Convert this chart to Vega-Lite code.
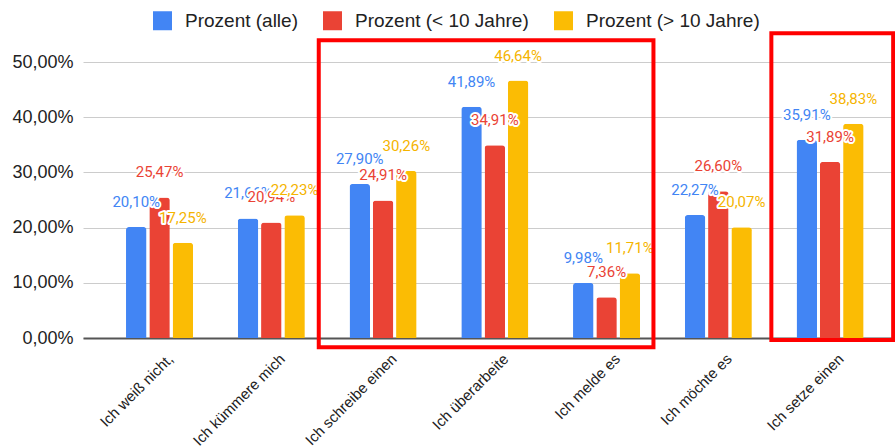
{
  "$schema": "https://vega.github.io/schema/vega-lite/v6.json",
  "width": 812,
  "height": 276,
  "autosize": "none",
  "padding": {"left": 83, "top": 62, "right": 0, "bottom": 108},
  "background": "white",
  "config": {
    "locale": {"number": {"decimal": ",", "thousands": ".", "grouping": [3], "currency": ["", " €"]}},
    "view": {"stroke": null}
  },
  "datasets": {
    "werte": [
      {"kategorie": "Ich weiß nicht,", "gruppe": "Prozent (alle)", "anteil": 0.2010},
      {"kategorie": "Ich weiß nicht,", "gruppe": "Prozent (< 10 Jahre)", "anteil": 0.2547},
      {"kategorie": "Ich weiß nicht,", "gruppe": "Prozent (> 10 Jahre)", "anteil": 0.1725},
      {"kategorie": "Ich kümmere mich", "gruppe": "Prozent (alle)", "anteil": 0.2166},
      {"kategorie": "Ich kümmere mich", "gruppe": "Prozent (< 10 Jahre)", "anteil": 0.2094},
      {"kategorie": "Ich kümmere mich", "gruppe": "Prozent (> 10 Jahre)", "anteil": 0.2223},
      {"kategorie": "Ich schreibe einen", "gruppe": "Prozent (alle)", "anteil": 0.2790},
      {"kategorie": "Ich schreibe einen", "gruppe": "Prozent (< 10 Jahre)", "anteil": 0.2491},
      {"kategorie": "Ich schreibe einen", "gruppe": "Prozent (> 10 Jahre)", "anteil": 0.3026},
      {"kategorie": "Ich überarbeite", "gruppe": "Prozent (alle)", "anteil": 0.4189},
      {"kategorie": "Ich überarbeite", "gruppe": "Prozent (< 10 Jahre)", "anteil": 0.3491},
      {"kategorie": "Ich überarbeite", "gruppe": "Prozent (> 10 Jahre)", "anteil": 0.4664},
      {"kategorie": "Ich melde es", "gruppe": "Prozent (alle)", "anteil": 0.0998},
      {"kategorie": "Ich melde es", "gruppe": "Prozent (< 10 Jahre)", "anteil": 0.0736},
      {"kategorie": "Ich melde es", "gruppe": "Prozent (> 10 Jahre)", "anteil": 0.1171},
      {"kategorie": "Ich möchte es", "gruppe": "Prozent (alle)", "anteil": 0.2227},
      {"kategorie": "Ich möchte es", "gruppe": "Prozent (< 10 Jahre)", "anteil": 0.2660},
      {"kategorie": "Ich möchte es", "gruppe": "Prozent (> 10 Jahre)", "anteil": 0.2007},
      {"kategorie": "Ich setze einen", "gruppe": "Prozent (alle)", "anteil": 0.3591},
      {"kategorie": "Ich setze einen", "gruppe": "Prozent (< 10 Jahre)", "anteil": 0.3189},
      {"kategorie": "Ich setze einen", "gruppe": "Prozent (> 10 Jahre)", "anteil": 0.3883}
    ],
    "markierungen": [
      {"von": 1.425, "bis": 4.42, "oben": 0.5395, "unten": -0.0167},
      {"von": 5.475, "bis": 6.565, "oben": 0.552, "unten": -0.0036}
    ]
  },
  "layer": [
    {
      "data": {"name": "werte"},
      "encoding": {
        "x": {
          "field": "kategorie",
          "type": "nominal",
          "sort": null,
          "scale": {"paddingInner": 0.4, "paddingOuter": 0.333, "align": 0.578},
          "axis": {
            "title": null,
            "labelAngle": -45,
            "labelAlign": "right",
            "labelBaseline": "middle",
            "labelFont": "Liberation Sans",
            "labelFontSize": 15,
            "labelColor": "#222222",
            "labelPadding": 18,
            "labelOffset": 11,
            "ticks": false,
            "grid": false,
            "domainColor": "#555555",
            "domainWidth": 2,
            "labelOverlap": false
          }
        },
        "xOffset": {
          "field": "gruppe",
          "type": "nominal",
          "scale": {"domain": ["Prozent (alle)", "Prozent (< 10 Jahre)", "Prozent (> 10 Jahre)"], "paddingInner": 0.12, "paddingOuter": 0}
        },
        "y": {
          "field": "anteil",
          "type": "quantitative",
          "scale": {"domain": [0, 0.5], "nice": false},
          "axis": {
            "title": null,
            "format": ".2%",
            "values": [0, 0.1, 0.2, 0.3, 0.4, 0.5],
            "labelFont": "Liberation Sans",
            "labelFontSize": 18,
            "labelColor": "#222222",
            "labelPadding": 10,
            "ticks": false,
            "domain": false,
            "gridColor": "#cccccc",
            "gridWidth": 1
          }
        }
      },
      "layer": [
        {
          "mark": {"type": "bar", "cornerRadiusTopLeft": 3, "cornerRadiusTopRight": 3},
          "encoding": {
            "color": {
              "field": "gruppe",
              "type": "nominal",
              "scale": {
                "domain": ["Prozent (alle)", "Prozent (< 10 Jahre)", "Prozent (> 10 Jahre)"],
                "range": ["#4285F4", "#EA4335", "#FBBC04"]
              },
              "legend": {
                "title": null,
                "orient": "none",
                "direction": "horizontal",
                "legendX": 70,
                "legendY": -51,
                "symbolType": "square",
                "symbolSize": 361,
                "symbolStrokeWidth": 0,
                "labelFont": "Liberation Sans",
                "labelFontSize": 19,
                "labelColor": "#222222",
                "labelOffset": 13,
                "labelLimit": 400,
                "columnPadding": 25,
                "padding": 0
              }
            }
          }
        },
        {
          "transform": [{"filter": "datum.gruppe === 'Prozent (alle)'"}],
          "mark": {"type": "text", "dy": -25, "font": "Roboto", "fontSize": 15, "fill": "white", "stroke": "white", "strokeWidth": 4, "strokeJoin": "round"},
          "encoding": {"text": {"field": "anteil", "type": "quantitative", "format": ".2%"}}
        },
        {
          "transform": [{"filter": "datum.gruppe === 'Prozent (alle)'"}],
          "mark": {"type": "text", "dy": -25, "font": "Roboto", "fontSize": 15, "fill": "#4285F4"},
          "encoding": {"text": {"field": "anteil", "type": "quantitative", "format": ".2%"}}
        },
        {
          "transform": [{"filter": "datum.gruppe === 'Prozent (< 10 Jahre)'"}],
          "mark": {"type": "text", "dy": -25, "font": "Roboto", "fontSize": 15, "fill": "white", "stroke": "white", "strokeWidth": 4, "strokeJoin": "round"},
          "encoding": {"text": {"field": "anteil", "type": "quantitative", "format": ".2%"}}
        },
        {
          "transform": [{"filter": "datum.gruppe === 'Prozent (< 10 Jahre)'"}],
          "mark": {"type": "text", "dy": -25, "font": "Roboto", "fontSize": 15, "fill": "#EA4335"},
          "encoding": {"text": {"field": "anteil", "type": "quantitative", "format": ".2%"}}
        },
        {
          "transform": [{"filter": "datum.gruppe === 'Prozent (> 10 Jahre)'"}],
          "mark": {"type": "text", "dy": -25, "font": "Roboto", "fontSize": 15, "fill": "white", "stroke": "white", "strokeWidth": 4, "strokeJoin": "round"},
          "encoding": {"text": {"field": "anteil", "type": "quantitative", "format": ".2%"}}
        },
        {
          "transform": [{"filter": "datum.gruppe === 'Prozent (> 10 Jahre)'"}],
          "mark": {"type": "text", "dy": -25, "font": "Roboto", "fontSize": 15, "fill": "#F5B400"},
          "encoding": {"text": {"field": "anteil", "type": "quantitative", "format": ".2%"}}
        }
      ]
    },
    {
      "data": {"name": "markierungen"},
      "mark": {"type": "rect", "fill": null, "stroke": "#FF0000", "strokeWidth": 4},
      "encoding": {
        "x": {"field": "von", "type": "quantitative", "scale": {"domain": [-0.6846, 6.5814], "nice": false, "zero": false}, "axis": null},
        "x2": {"field": "bis"},
        "y": {"field": "oben", "type": "quantitative"},
        "y2": {"field": "unten"}
      }
    }
  ],
  "resolve": {"scale": {"x": "independent"}}
}
